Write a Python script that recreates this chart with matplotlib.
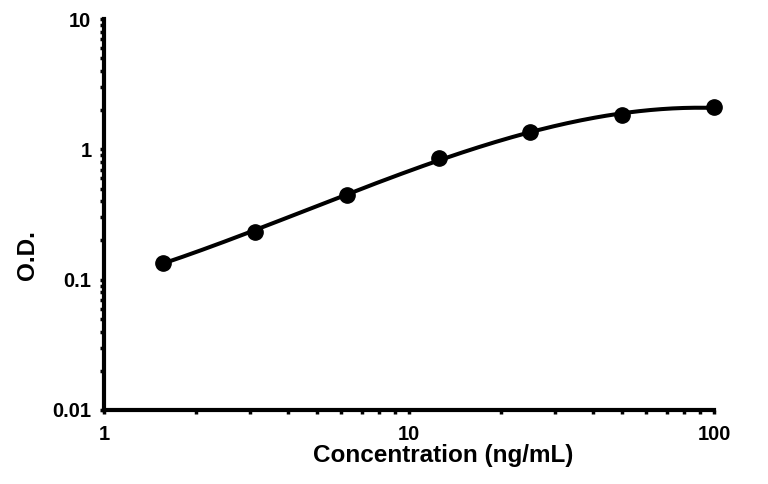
import matplotlib
matplotlib.use("Agg")
import matplotlib.pyplot as plt
import numpy as np

plt.rcParams["font.family"] = ["Liberation Sans", "DejaVu Sans"]
plt.rcParams["font.weight"] = "bold"

# standard curve data
concentration = [1.5625, 3.125, 6.25, 12.5, 25, 50, 100]
od = [0.135, 0.233, 0.447, 0.86, 1.35, 1.83, 2.11]

x_ticks = [1, 10, 100]
x_tick_labels = ["1", "10", "100"]
y_ticks = [0.01, 0.1, 1, 10]
y_tick_labels = ["0.01", "0.1", "1", "10"]

fig = plt.figure(figsize=(7.68, 4.84), dpi=100)
fig.set_facecolor("white")
ax = fig.add_axes([0.1354, 0.1529, 0.7943, 0.8078])

# smooth fitted curve (cubic in log-log space)
lx = np.log10(concentration)
ly = np.log10(od)
coef = np.polyfit(lx, ly, 3)
xs = np.linspace(lx[0], lx[-1], 200)
ax.plot(10 ** xs, 10 ** np.polyval(coef, xs), color="black", lw=2.9, zorder=2,
        clip_on=False)
ax.plot(concentration, od, "o", color="black", ms=11, zorder=3, clip_on=False)

ax.set_xscale("log")
ax.set_yscale("log")
ax.set_xlim(1, 100)
ax.set_ylim(0.01, 10)
ax.set_xticks(x_ticks)
ax.set_xticklabels(x_tick_labels)
ax.set_yticks(y_ticks)
ax.set_yticklabels(y_tick_labels)

for side in ["top", "right"]:
    ax.spines[side].set_visible(False)
for side in ["left", "bottom"]:
    ax.spines[side].set_linewidth(3)

ax.tick_params(which="both", direction="out", length=3, width=2.5, labelsize=14.5)
ax.tick_params(axis="x", pad=8)
ax.tick_params(axis="y", pad=6)
ax.set_xlabel("Concentration (ng/mL)", fontsize=17.5, fontweight="bold")
ax.xaxis.set_label_coords(0.556, -0.088)
ax.set_ylabel("O.D.", fontsize=17.5, fontweight="bold")
ax.yaxis.set_label_coords(-0.106, 0.396)

fig.savefig("out.png", dpi=100, facecolor="white")
